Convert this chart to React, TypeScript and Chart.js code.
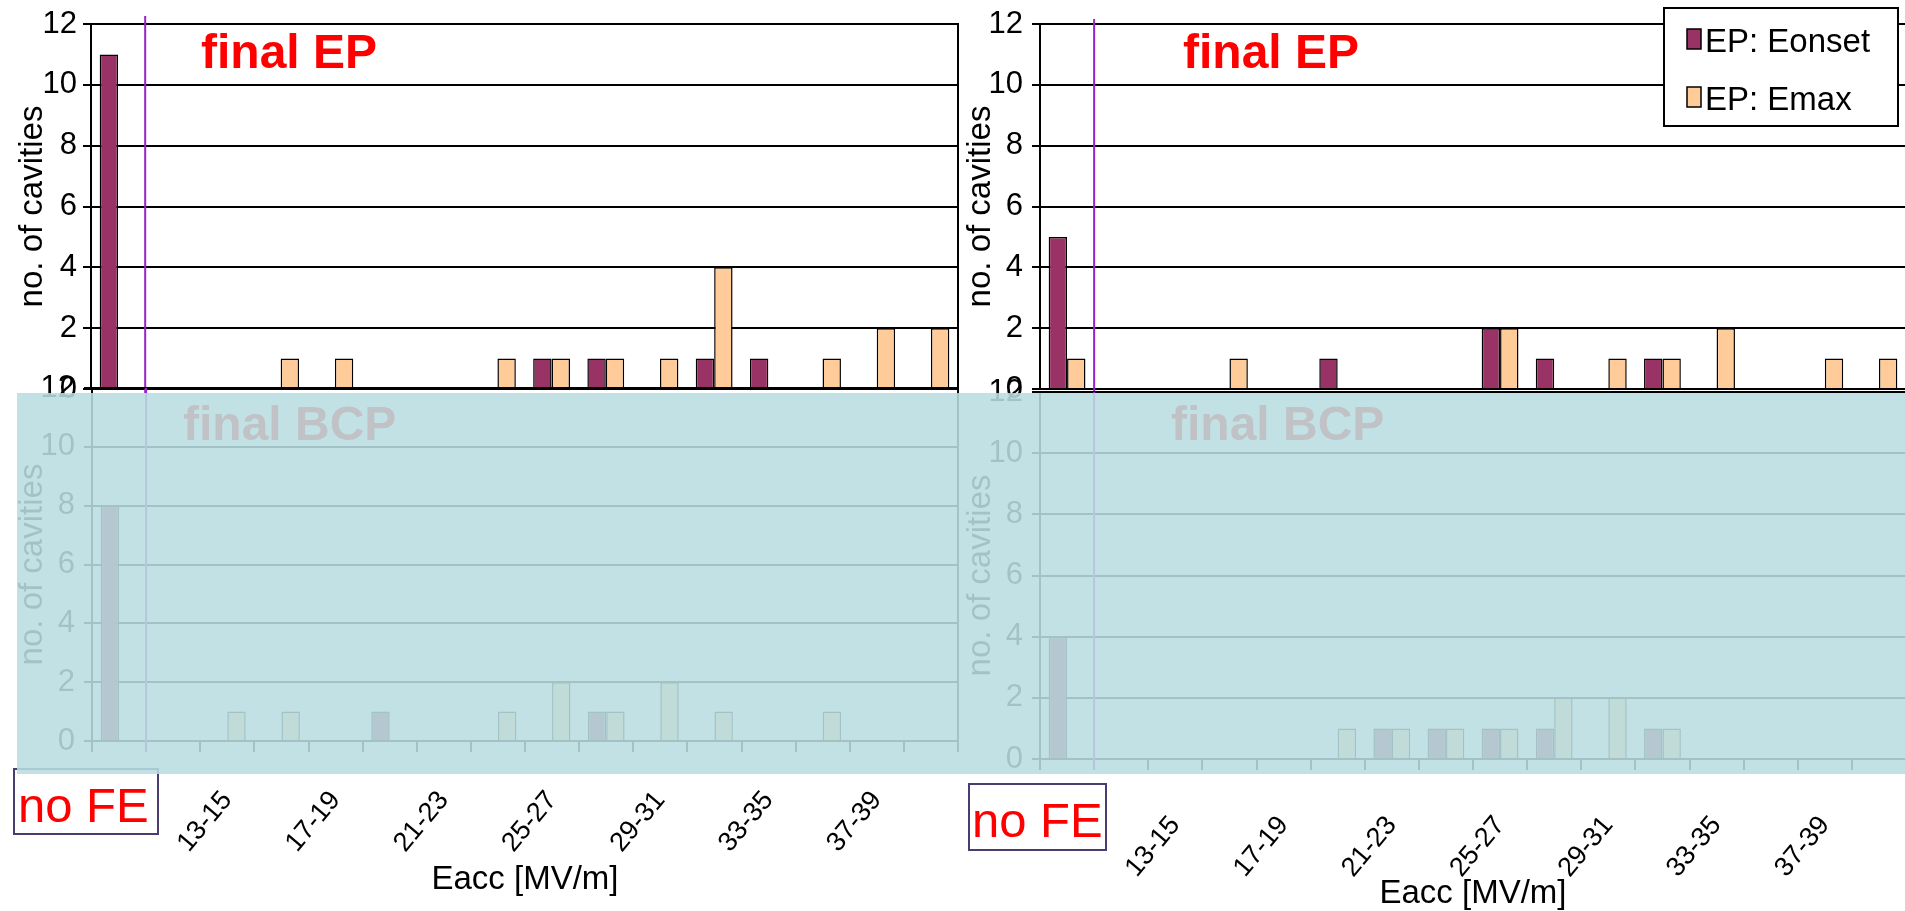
import React, { useEffect, useRef } from 'react';
import { Chart, registerables } from 'chart.js';

Chart.register(...registerables);

// ---------- data ----------
const categories = ['no FE', '11-13', '13-15', '15-17', '17-19', '19-21', '21-23', '23-25', '25-27', '27-29', '29-31', '31-33', '33-35', '35-37', '37-39', '39-41'];
const yTicks = [0, 2, 4, 6, 8, 10, 12];

const leftEpOnset = [11, 0, 0, 0, 0, 0, 0, 0, 1, 1, 0, 1, 1, 0, 0, 0];
const leftEpMax = [0, 0, 0, 1, 1, 0, 0, 1, 1, 1, 1, 4, 0, 1, 2, 2];
const leftBcpOnset = [8, 0, 0, 0, 0, 1, 0, 0, 0, 1, 0, 0, 0, 0, 0, 0];
const leftBcpMax = [0, 0, 1, 1, 0, 0, 0, 1, 2, 1, 2, 1, 0, 1, 0, 0];
const rightEpOnset = [5, 0, 0, 0, 0, 1, 0, 0, 2, 1, 0, 1, 0, 0, 0, 0];
const rightEpMax = [1, 0, 0, 1, 0, 0, 0, 0, 2, 0, 1, 1, 2, 0, 1, 1];
const rightBcpOnset = [4, 0, 0, 0, 0, 0, 1, 1, 1, 1, 0, 1, 0, 0, 0, 0];
const rightBcpMax = [0, 0, 0, 0, 0, 1, 1, 1, 1, 2, 2, 1, 0, 0, 0, 0];

const ONSET_COLOR = '#993366';
const MAX_COLOR = '#FFCC99';
const PURPLE = '#9922C8';
const SANS = '"Liberation Sans", Arial, sans-serif';
const NARROW = '"Liberation Sans Narrow", "Arial Narrow", "Liberation Sans", sans-serif';

// ---------- plugins ----------
const plotBorder = {
  id: 'plotBorder',
  afterDatasetsDraw(chart: any) {
    const { ctx, chartArea: a } = chart;
    ctx.save();
    ctx.strokeStyle = '#000';
    ctx.lineWidth = 2;
    ctx.strokeRect(a.left, a.top, a.right - a.left, a.bottom - a.top);
    ctx.restore();
  },
};

const divider = {
  id: 'divider',
  afterDatasetsDraw(chart: any, _args: any, o: any) {
    if (!o || !o.show) return;
    const xs = chart.scales.x;
    const x = (xs.getPixelForTick(0) + xs.getPixelForTick(1)) / 2;
    const { ctx, chartArea: a } = chart;
    ctx.save();
    ctx.strokeStyle = PURPLE;
    ctx.lineWidth = 2;
    ctx.beginPath();
    ctx.moveTo(x, a.top - o.above);
    ctx.lineTo(x, a.bottom + o.below);
    ctx.stroke();
    ctx.restore();
  },
};

const boxLegend = {
  id: 'boxLegend',
  afterDraw(chart: any, _args: any, o: any) {
    if (!o || !o.show) return;
    const { ctx } = chart;
    ctx.save();
    ctx.fillStyle = '#fff';
    ctx.fillRect(o.left, o.top, o.width, o.height);
    ctx.strokeStyle = '#000';
    ctx.lineWidth = 2;
    ctx.strokeRect(o.left, o.top, o.width, o.height);
    chart.data.datasets.forEach((ds: any, i: number) => {
      const sy = o.top + o.swatchY + i * o.rowGap;
      ctx.fillStyle = ds.backgroundColor;
      ctx.fillRect(o.left + o.swatchX, sy, o.swatchW, o.swatchH);
      ctx.strokeStyle = '#000';
      ctx.lineWidth = 1.5;
      ctx.strokeRect(o.left + o.swatchX, sy, o.swatchW, o.swatchH);
      ctx.fillStyle = '#000';
      ctx.font = `33px ${SANS}`;
      ctx.textBaseline = 'alphabetic';
      ctx.textAlign = 'left';
      ctx.fillText(ds.label, o.left + o.textX, o.top + o.baseY + i * o.rowGap);
    });
    ctx.restore();
  },
};

// ---------- chart configs ----------
type Cfg = {
  left: number; top: number; w: number; h: number;
  padding: { top: number; right: number; bottom: number; left: number };
  yWidth: number; yTickPad: number; yTitlePad: number;
  showX: boolean; xHeight: number; xTickPad: number; xTitlePad: number;
  onset: number[]; emax: number[]; prefix: string;
  divAbove: number; divBelow: number;
  legend: boolean;
};

function buildConfig(c: Cfg): any {
  return {
    type: 'bar',
    data: {
      labels: categories,
      datasets: [
        { label: `${c.prefix}: Eonset`, data: c.onset, backgroundColor: ONSET_COLOR, borderColor: '#000', borderWidth: 1.5, categoryPercentage: 0.68, barPercentage: 1 },
        { label: `${c.prefix}: Emax`, data: c.emax, backgroundColor: MAX_COLOR, borderColor: '#000', borderWidth: 1.5, categoryPercentage: 0.68, barPercentage: 1 },
      ],
    },
    options: {
      responsive: false,
      animation: false,
      devicePixelRatio: 1,
      layout: { padding: c.padding },
      plugins: {
        legend: { display: false },
        tooltip: { enabled: false },
        title: { display: false },
        divider: { show: true, above: c.divAbove, below: c.divBelow },
        boxLegend: c.legend
          ? { show: true, left: 704, top: 8, width: 234, height: 118, swatchX: 23, swatchY: 21, swatchW: 14, swatchH: 20, textX: 41, baseY: 44, rowGap: 58 }
          : { show: false },
      },
      scales: {
        x: {
          display: c.showX,
          offset: true,
          grid: { display: true, offset: true, drawOnChartArea: false, drawTicks: true, tickLength: 11, color: '#000', lineWidth: 2 },
          border: { display: true, color: '#000', width: 2 },
          ticks: {
            autoSkip: false,
            minRotation: 50,
            maxRotation: 50,
            padding: c.xTickPad,
            color: '#000',
            font: { size: 27, family: SANS },
            callback: (_v: any, i: number) => (i > 0 && i % 2 === 0 ? categories[i] : ''),
          },
          title: { display: true, text: 'Eacc [MV/m]', color: '#000', font: { size: 33, family: SANS, lineHeight: 1 }, padding: { top: 0, bottom: c.xTitlePad } },
          afterFit: (s: any) => { s.height = c.xHeight; s.paddingLeft = 0; s.paddingRight = 0; },
        },
        y: {
          min: 0,
          max: 12,
          afterBuildTicks: (s: any) => { s.ticks = yTicks.map((v) => ({ value: v })); },
          ticks: { padding: c.yTickPad, color: '#000', font: { size: 31, family: NARROW } },
          grid: { color: '#000', lineWidth: 2, drawTicks: true, tickLength: 8 },
          border: { display: true, color: '#000', width: 2 },
          title: { display: true, text: 'no. of cavities', color: '#000', font: { size: 33, family: SANS, lineHeight: 1 }, padding: { top: c.yTitlePad, bottom: 0 } },
          afterFit: (s: any) => { s.width = c.yWidth; s.paddingTop = 0; s.paddingBottom = 0; },
        },
      },
    },
    plugins: [plotBorder, divider, boxLegend],
  };
}

const leftEP: Cfg = {
  left: 0, top: 0, w: 965, h: 420,
  padding: { top: 24, right: 7, bottom: 31, left: 0 },
  yWidth: 91, yTickPad: 6, yTitlePad: 16.5,
  showX: false, xHeight: 0, xTickPad: 0, xTitlePad: 0,
  onset: leftEpOnset, emax: leftEpMax, prefix: 'EP',
  divAbove: 8, divBelow: 4, legend: false,
};
const rightEP: Cfg = {
  left: 960, top: 0, w: 950, h: 420,
  padding: { top: 24, right: 4, bottom: 31, left: 0 },
  yWidth: 80, yTickPad: 9, yTitlePad: 4.5,
  showX: false, xHeight: 0, xTickPad: 0, xTitlePad: 0,
  onset: rightEpOnset, emax: rightEpMax, prefix: 'EP',
  divAbove: 5, divBelow: 4, legend: true,
};
const leftBCP: Cfg = {
  left: 0, top: 360, w: 965, h: 551,
  padding: { top: 28, right: 7, bottom: 0, left: 0 },
  yWidth: 92, yTickPad: 9, yTitlePad: 16.5,
  showX: true, xHeight: 170, xTickPad: 33, xTitlePad: 14.5,
  onset: leftBcpOnset, emax: leftBcpMax, prefix: 'BCP',
  divAbove: 0, divBelow: 11, legend: false,
};
const rightBCP: Cfg = {
  left: 960, top: 365, w: 950, h: 551,
  padding: { top: 27, right: 4, bottom: 0, left: 0 },
  yWidth: 80, yTickPad: 9, yTitlePad: 4.5,
  showX: true, xHeight: 157, xTickPad: 40, xTitlePad: 5.5,
  onset: rightBcpOnset, emax: rightBcpMax, prefix: 'BCP',
  divAbove: 0, divBelow: 11, legend: false,
};

function ChartCanvas({ cfg, z }: { cfg: Cfg; z: number }) {
  const ref = useRef<HTMLCanvasElement>(null);
  useEffect(() => {
    const chart = new Chart(ref.current as HTMLCanvasElement, buildConfig(cfg));
    return () => chart.destroy();
  }, [cfg]);
  return (
    <canvas
      ref={ref}
      width={cfg.w}
      height={cfg.h}
      style={{ position: 'absolute', left: cfg.left, top: cfg.top, width: cfg.w, height: cfg.h, zIndex: z, display: 'block' }}
    />
  );
}

const abs = (s: React.CSSProperties): React.CSSProperties => ({ position: 'absolute', margin: 0, whiteSpace: 'nowrap', ...s });

export default function App() {
  const titleStyle = { fontFamily: SANS, fontWeight: 700, fontSize: 48, lineHeight: '48px', color: '#FF0000' };
  const noFeStyle = { fontFamily: SANS, fontSize: 49, lineHeight: '49px', color: '#FF0000' };
  return (
    <div style={{ position: 'absolute', left: 0, top: 0, width: 1905, height: 911, overflow: 'hidden', background: '#fff' }}>
      <ChartCanvas cfg={leftEP} z={1} />
      <ChartCanvas cfg={rightEP} z={1} />
      <ChartCanvas cfg={leftBCP} z={2} />
      <ChartCanvas cfg={rightBCP} z={2} />

      <div style={abs({ ...titleStyle, left: 183, top: 400, zIndex: 3 })}>final BCP</div>
      <div style={abs({ ...titleStyle, left: 1171, top: 400, zIndex: 3 })}>final BCP</div>

      <div style={abs({ left: 13, top: 768, width: 146, height: 67, boxSizing: 'border-box', border: '2px solid #4B3C70', background: '#fff', zIndex: 3 })} />
      <div style={abs({ ...noFeStyle, left: 18, top: 780.5, zIndex: 3 })}>no FE</div>
      <div style={abs({ left: 968, top: 783, width: 139, height: 68, boxSizing: 'border-box', border: '2px solid #4B3C70', background: '#fff', zIndex: 3 })} />
      <div style={abs({ ...noFeStyle, left: 972, top: 795.5, zIndex: 3 })}>no FE</div>

      <div style={abs({ left: 17, top: 393, width: 1888, height: 381, background: 'rgba(184,221,224,0.88)', zIndex: 4 })} />

      <div style={abs({ ...titleStyle, left: 201, top: 28, zIndex: 5 })}>final EP</div>
      <div style={abs({ ...titleStyle, left: 1183, top: 28, zIndex: 5 })}>final EP</div>
    </div>
  );
}
